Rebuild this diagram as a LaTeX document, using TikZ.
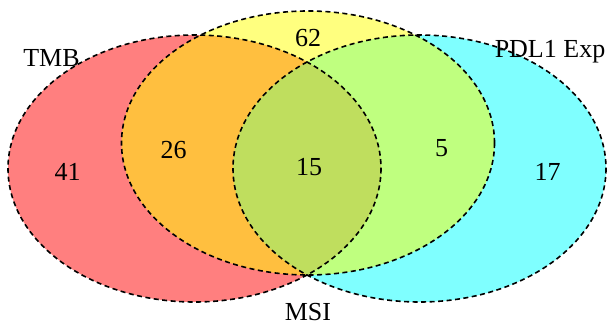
\documentclass[tikz,border=0pt]{standalone}
\usepackage{fontspec}
\setmainfont{Liberation Serif}
\definecolor{setred}{RGB}{255,0,0}
\definecolor{setcyan}{RGB}{0,255,255}
\definecolor{setyellow}{RGB}{255,255,0}
\begin{document}
\begin{tikzpicture}[x=1pt,y=-1pt,
  setline/.style={draw=black, dash pattern=on 5pt off 3.5pt, line width=1.6pt},
  lbl/.style={font=\fontsize{26}{30}\selectfont, anchor=base, inner sep=0pt}]
\useasboundingbox (0,0) rectangle (610,326);
\fill[setred, fill opacity=0.5] (194.5,168.5) ellipse [x radius=186.5, y radius=133.5];
\fill[setcyan, fill opacity=0.5] (419.5,168.5) ellipse [x radius=186.5, y radius=133.5];
\fill[setyellow, fill opacity=0.5] (308,143) ellipse [x radius=186.5, y radius=132];
\draw[setline] (194.5,168.5) ellipse [x radius=186.5, y radius=133.5];
\draw[setline] (419.5,168.5) ellipse [x radius=186.5, y radius=133.5];
\draw[setline] (308,143) ellipse [x radius=186.5, y radius=132];
\node[lbl] (tmb) at (51.5,67) {TMB};
\node[lbl] (pdl) at (550,58) {PDL1 Exp};
\node[lbl] (msi) at (308,320) {MSI};
\node[lbl] (n62) at (308,47) {62};
\node[lbl] (n41) at (67.5,180) {41};
\node[lbl] (n26) at (173.5,158) {26};
\node[lbl] (n15) at (309,175) {15};
\node[lbl] (n5) at (441.5,157) {5};
\node[lbl] (n17) at (547.5,180) {17};
\end{tikzpicture}
\end{document}
